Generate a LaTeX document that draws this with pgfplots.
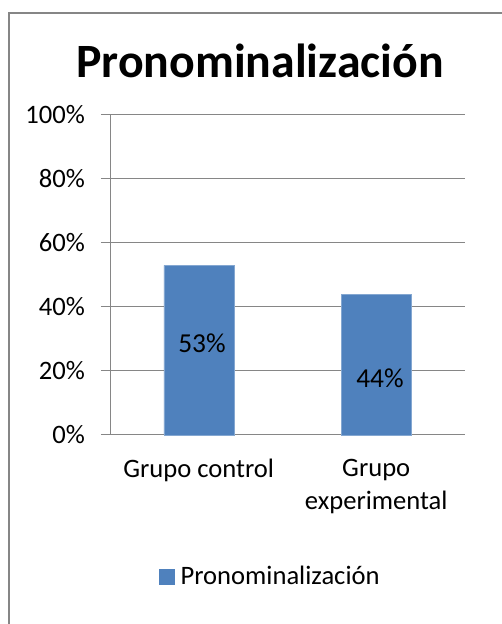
\documentclass[border=0pt]{standalone}
\usepackage{pgfplots}
\pgfplotsset{compat=1.18}
\usepackage{fontspec}
\setmainfont{Carlito}
\definecolor{barblue}{HTML}{4F81BD}
\definecolor{gridgray}{HTML}{868686}
\begin{document}
\begin{tikzpicture}
\path[use as bounding box] (0bp,0bp) rectangle (502bp,624bp);
\draw[gridgray, line width=1.5bp] (9bp,-2bp) -- (9bp,611bp) -- (504bp,611bp);
\node[font=\fontsize{48}{56}\bfseries\selectfont, anchor=base, inner sep=0] at (260bp,546bp) {Pronominalización};
\begin{axis}[
  at={(110bp,189bp)}, anchor=south west,
  scale only axis, width=355bp, height=320bp,
  xmin=-0.5, xmax=1.5, ymin=0, ymax=1,
  axis x line*=bottom, axis y line*=left,
  axis line style={gridgray, line width=1bp, -},
  ymajorgrids, grid style={gridgray, line width=1bp},
  ytick={0,0.2,0.4,0.6,0.8,1},
  yticklabels={0\%,20\%,40\%,60\%,80\%,100\%},
  xtick={0,1},
  xticklabels={Grupo control,{Grupo\\experimental}},
  minor xtick={-0.5,0.5,1.5},
  tick align=outside,
  major tick length=9bp, minor tick length=9bp,
  xtick style={draw=none},
  minor tick style={gridgray, line width=1bp},
  ytick style={gridgray, line width=1bp},
  tick label style={font=\fontsize{26.7}{33}\selectfont, inner sep=0},
  yticklabel style={anchor=east, xshift=-16bp},
  xticklabel style={anchor=north, align=center, yshift=-15bp},
  legend style={at={(0.138,-0.442)}, anchor=west, draw=none, fill=none,
    font=\fontsize{26.7}{33}\selectfont, inner sep=0},
  legend image code/.code={\fill[barblue] (0bp,-7.5bp) rectangle (15bp,7.5bp); \path (19bp,0bp);},
  clip=false,
]
\addplot[ybar, bar width=70bp, fill=barblue, draw=barblue!70!white] coordinates {(0,0.53) (1,0.44)};
\addlegendentry{Pronominalización}
\addplot[forget plot, only marks, mark=none, nodes near coords, point meta=explicit symbolic,
  nodes near coords style={anchor=center, font=\fontsize{27.5}{33}\selectfont, inner sep=0}]
  coordinates {(0.018,0.2875) [53\%] (1.021,0.178) [44\%]};
\end{axis}
\end{tikzpicture}
\end{document}
